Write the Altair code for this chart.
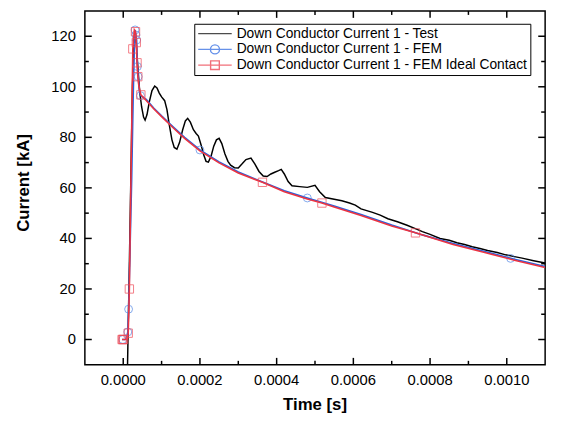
import altair as alt
import pandas as pd

FONT = "Liberation Sans"

# ---------------- data ----------------
test_t = [0.000011, 0.000013, 0.000016, 0.000020, 0.000024, 0.000028, 0.000031, 0.000034,
          0.000038, 0.000043, 0.000048, 0.000053, 0.000057, 0.000062, 0.000068, 0.000075,
          0.000082, 0.000088, 0.000094, 0.000100, 0.000108, 0.000114, 0.000120, 0.000127,
          0.000133, 0.000140, 0.000147, 0.000155, 0.000162, 0.000168, 0.000175, 0.000183,
          0.000190, 0.000196, 0.000203, 0.000210, 0.000216, 0.000222, 0.000229, 0.000236,
          0.000243, 0.000250, 0.000257, 0.000265, 0.000273, 0.000280, 0.000290, 0.000300,
          0.000310, 0.000320, 0.000333, 0.000343, 0.000354, 0.000365, 0.000375, 0.000385,
          0.000395, 0.000405, 0.000412, 0.000420, 0.000430, 0.000440, 0.000460, 0.000480,
          0.000500, 0.000512, 0.000527, 0.000550, 0.000570, 0.000590, 0.000605, 0.000620,
          0.000650, 0.000670, 0.000690, 0.000715, 0.000740, 0.000760, 0.000780, 0.000800,
          0.000826, 0.000850, 0.000870, 0.000890, 0.000910, 0.000930, 0.000950, 0.000975,
          0.000997, 0.001020, 0.001040, 0.001070, 0.001100]
test_v = [-12, 5, 30, 65, 100, 118, 122, 117,
          108, 98, 92, 88, 86.8, 89, 94, 98.5,
          100.3, 99.5, 97.5, 96, 94.5, 91, 85, 79,
          76, 75.3, 78, 83, 86.5, 87.5, 86, 83,
          81.5, 80.5, 77, 73, 70.5, 70.2, 72.5, 76.5,
          79, 79.6, 77.5, 73.5, 70.5, 69, 68, 67.9,
          69.5, 71.2, 71.8, 69.5, 66.5, 64.7, 64.5, 65.5,
          66.2, 66.8, 67.3, 65.5, 62.5, 60.8, 60.5, 60.2,
          61, 58.5, 56.2, 55.5, 54.9, 54, 53.2, 51.7,
          50.3, 49.2, 47.8, 46.6, 45.2, 44.0, 42.7, 41.6,
          40, 39.3, 38.3, 37.6, 36.7, 36.0, 35.2, 34.4,
          33.5, 32.8, 32.2, 31.2, 30.3]

fem_t = [-0.000003, 0.000004, 0.000008, 0.000012, 0.000014, 0.000018, 0.000022, 0.000026,
         0.000029, 0.000031, 0.000033, 0.000035, 0.000037, 0.000039, 0.000042, 0.000045,
         0.000060, 0.000080, 0.000100, 0.000130, 0.000160, 0.000200, 0.000250, 0.000300,
         0.000360, 0.000420, 0.000480, 0.000550, 0.000620, 0.000700, 0.000780, 0.000860,
         0.000940, 0.001020, 0.001100]
fem_v = [0, 0, 0.3, 3, 12, 37, 63, 96,
         116, 122.5, 120.5, 118.5, 108, 104, 98.5, 96.5,
         95, 91.5, 88.5, 84.2, 80, 75, 70.3, 66.3,
         62.5, 58.9, 56, 52.8, 49.5, 45.3, 41.4, 38,
         34.9, 31.8, 28.9]

ideal_t = [-0.000003, 0.000003, 0.000008, 0.000011, 0.000013, 0.000016, 0.000020, 0.000025,
           0.000029, 0.000032, 0.000034, 0.000036, 0.000038, 0.000041, 0.000046, 0.000060,
           0.000080, 0.000100, 0.000130, 0.000160, 0.000200, 0.000250, 0.000300, 0.000363,
           0.000420, 0.000480, 0.000518, 0.000550, 0.000620, 0.000700, 0.000762, 0.000860,
           0.000940, 0.001020, 0.001100]
ideal_v = [0, 0, 0, 0.5, 2.5, 20, 62, 115,
           122.5, 121.8, 117.5, 109.5, 104, 100, 96.8, 94.6,
           91.2, 88.2, 83.8, 79.6, 74.6, 69.9, 65.9, 62.2,
           58.5, 55.6, 54.0, 52.4, 49.1, 44.9, 42.2, 37.6,
           34.5, 31.4, 28.5]

fem_mk_t = [-0.000001, 0.000012, 0.000014, 0.000031, 0.000033, 0.000035, 0.000037,
            0.000039, 0.000045, 0.000200, 0.000480, 0.001010]
fem_mk_v = [0, 3, 12, 122.5, 120.5, 118.5, 108, 104, 96.5, 75, 56, 32.1]

ideal_mk_t = [-0.000003, -0.000001, 0.000001, 0.000013, 0.000016, 0.000025, 0.000032,
              0.000034, 0.000036, 0.000038, 0.000046, 0.000363, 0.000518, 0.000762]
ideal_mk_v = [0, 0, 0, 2.5, 20, 115, 121.8, 117.5, 109.5, 104, 96.8, 62.2, 54.0, 42.2]

series_names = ["Down Conductor Current 1 - Test",
                "Down Conductor Current 1 - FEM",
                "Down Conductor Current 1 - FEM Ideal Contact"]
series_colors = ["#000000", "#2563e0", "#ec3340"]
marker_colors = ["#000000", "#4f86e6", "#ef4855"]

x_major = [0.0, 0.0002, 0.0004, 0.0006, 0.0008, 0.0010]
x_minor = [0.0001, 0.0003, 0.0005, 0.0007, 0.0009]
y_major = [0, 20, 40, 60, 80, 100, 120]
y_minor = [10, 30, 50, 70, 90, 110]
x_title = "Time [s]"
y_title = "Current [kA]"

# ---------------- frames ----------------
df_test = pd.DataFrame({"t": test_t, "v": test_v, "series": series_names[0]})
df_fem = pd.DataFrame({"t": fem_t, "v": fem_v, "series": series_names[1]})
df_ideal = pd.DataFrame({"t": ideal_t, "v": ideal_v, "series": series_names[2]})
df_fem_mk = pd.DataFrame({"t": fem_mk_t, "v": fem_mk_v})
df_ideal_mk = pd.DataFrame({"t": ideal_mk_t, "v": ideal_mk_v})

W, H = 467, 359
MAJ, MIN = 7, 4
xs = alt.Scale(domain=[-0.0001, 0.0011], nice=False, zero=False)
ys = alt.Scale(domain=[-10, 130], nice=False, zero=False)

X = lambda: alt.X("t:Q", scale=xs, axis=None)
Y = lambda: alt.Y("v:Q", scale=ys, axis=None)

test_line = alt.Chart(df_test).mark_line(color=series_colors[0], strokeWidth=1.5,
                                         clip=True).encode(x=X(), y=Y())
fem_line = alt.Chart(df_fem).mark_line(color=series_colors[1], strokeWidth=1.6,
                                       clip=True).encode(x=X(), y=Y())
fem_pts = alt.Chart(df_fem_mk).mark_point(shape="circle", size=64, strokeWidth=1,
                                          color=marker_colors[1], clip=True).encode(x=X(), y=Y())
ideal_line = alt.Chart(df_ideal).mark_line(color=series_colors[2], strokeWidth=1.6,
                                           clip=True).encode(x=X(), y=Y())
ideal_pts = alt.Chart(df_ideal_mk).mark_point(shape="square", size=72, strokeWidth=1,
                                              color=marker_colors[2], clip=True).encode(x=X(), y=Y())


# inward tick marks on all four sides (positions from the scales)
def x_ticks(values, length):
    d = pd.DataFrame({"t": values})
    bottom = alt.Chart(d).mark_rule(color="black", strokeWidth=1.5).encode(
        x=X(), y=alt.value(H), y2=alt.value(H - length))
    top = alt.Chart(d).mark_rule(color="black", strokeWidth=1.5).encode(
        x=X(), y=alt.value(0), y2=alt.value(length))
    return [bottom, top]


def y_ticks(values, length):
    d = pd.DataFrame({"v": values})
    left = alt.Chart(d).mark_rule(color="black", strokeWidth=1.5).encode(
        y=Y(), x=alt.value(0), x2=alt.value(length))
    right = alt.Chart(d).mark_rule(color="black", strokeWidth=1.5).encode(
        y=Y(), x=alt.value(W), x2=alt.value(W - length))
    return [left, right]


tick_layers = (x_ticks(x_major, MAJ) + x_ticks(x_minor, MIN)
               + y_ticks(y_major, MAJ) + y_ticks(y_minor, MIN))

# tick labels and axis titles as text placed through the scales
x_lab = alt.Chart(pd.DataFrame({"t": x_major})).transform_calculate(
    lab="format(datum.t, '.4f')"
).mark_text(font=FONT, fontSize=15, color="black", baseline="top", align="center").encode(
    x=X(), y=alt.value(H + 9), text="lab:N")

y_lab = alt.Chart(pd.DataFrame({"v": y_major})).transform_calculate(
    lab="format(datum.v, 'd')"
).mark_text(font=FONT, fontSize=15, color="black", baseline="middle", align="right").encode(
    y=Y(), x=alt.value(-9), text="lab:N")

x_ttl = alt.Chart(pd.DataFrame({"label": [x_title]})).mark_text(
    font=FONT, fontSize=17, fontWeight="bold", color="black", baseline="top", align="center"
).encode(x=alt.value(W / 2), y=alt.value(H + 33), text="label:N")

y_ttl = alt.Chart(pd.DataFrame({"label": [y_title]})).mark_text(
    font=FONT, fontSize=17, fontWeight="bold", color="black", baseline="middle",
    align="center", angle=270
).encode(x=alt.value(-62), y=alt.value(H / 2 - 5), text="label:N")

legend_shapes = [
    "M-1,0H1",
    "M-1,0H1M0.27,0A0.27,0.27,0,1,1,-0.27,0A0.27,0.27,0,1,1,0.27,0",
    "M-1,0H1M-0.26,-0.26H0.26V0.26H-0.26Z",
]

df_all = pd.concat([df_test, df_fem, df_ideal], ignore_index=True)
legend_layer = alt.Chart(df_all).transform_filter(
    alt.datum.series == "none"
).mark_point(filled=False, strokeWidth=1.4).encode(
    x=X(),
    y=Y(),
    color=alt.Color("series:N", scale=alt.Scale(domain=series_names, range=series_colors),
                    legend=alt.Legend(orient="none", legendX=111, legendY=13, title=None,
                                      labelFont=FONT, labelFontSize=14, labelColor="black",
                                      labelLimit=1000,
                                      strokeColor="black", fillColor="white",
                                      padding=3, rowPadding=2, symbolSize=1156,
                                      clipHeight=14, symbolStrokeWidth=1.4,
                                      labelOffset=4, symbolFillColor="transparent")),
    shape=alt.Shape("series:N", scale=alt.Scale(domain=series_names, range=legend_shapes)),
)

chart = alt.layer(test_line, fem_line, fem_pts, ideal_line, ideal_pts, *tick_layers,
                  x_lab, y_lab, x_ttl, y_ttl, legend_layer).properties(
    width=W, height=H,
    padding={"left": 78, "top": 0, "right": 9, "bottom": 52},
    autosize=alt.AutoSizeParams(type="none"),
    background="white",
).configure_view(stroke="black", strokeWidth=1.5)

chart.save("out.html", embed_options={"renderer": "svg", "actions": False})
